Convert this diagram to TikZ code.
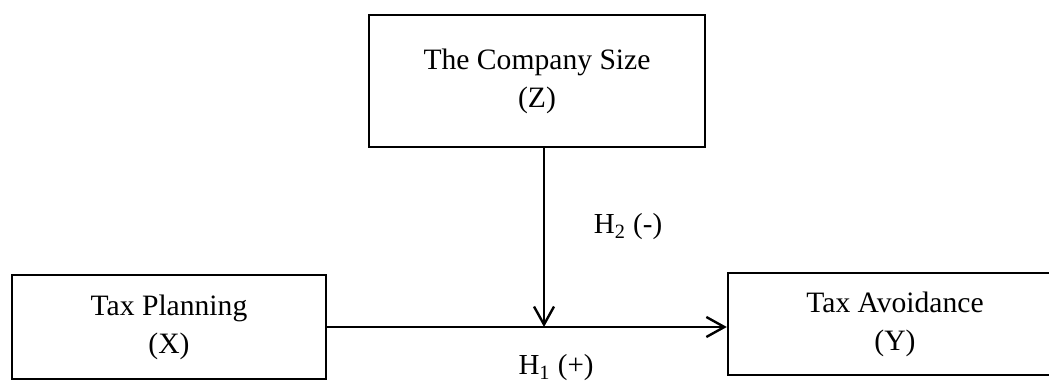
\documentclass[tikz,border=0pt]{standalone}
\usepackage{fontspec}
\setmainfont{Liberation Serif}
\usetikzlibrary{arrows.meta}
\begin{document}
\begin{tikzpicture}[x=0.5pt,y=-0.5pt,
  box/.style={draw, line width=1.2pt, inner sep=0pt, align=center,
    font=\fontsize{14.8}{19}\selectfont},
  conn/.style={line width=1.2pt,
    -{Straight Barb[length=9pt,width=10pt,line width=1.2pt]}},
  lbl/.style={font=\fontsize{14.5}{19}\selectfont, inner sep=0pt}]
\clip (0,0) rectangle (1049,384);
\node[box, minimum width=168pt, minimum height=66pt] (Z) at (537,81) {The Company Size\\(Z)};
\node[box, minimum width=157pt, minimum height=52pt] (X) at (169,327) {Tax Planning\\(X)};
\node[box, minimum width=167pt, minimum height=51pt] (Y) at (895,324) {Tax Avoidance\\(Y)};
\coordinate (M) at (544,327);
\draw[conn] (X.east) -- (X.east -| Y.west);
\draw[conn] (Z.south -| M) -- (M);
\node[lbl] (h2) at (628,227) {H\textsubscript{2} (-)};
\node[lbl] (h1) at (556,368) {H\textsubscript{1} (+)};
\end{tikzpicture}
\end{document}
